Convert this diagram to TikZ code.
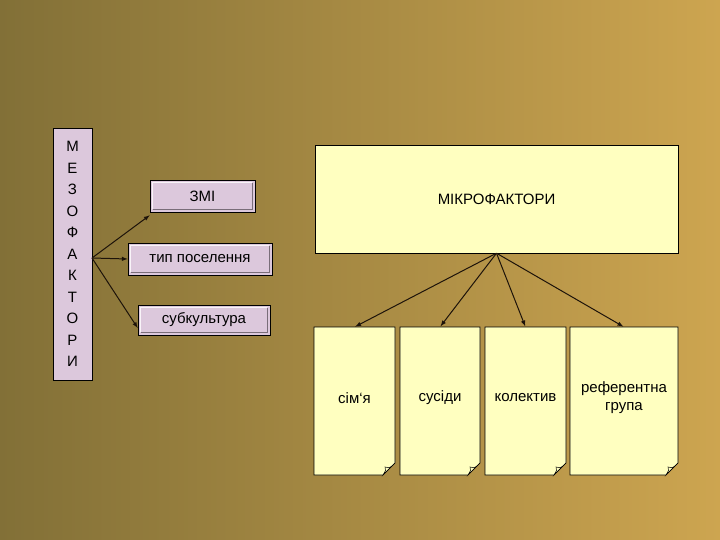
\documentclass[tikz,border=0pt]{standalone}
\usepackage{fontspec}
\setmainfont{Liberation Sans}
\begin{document}
\begin{tikzpicture}[x=1pt,y=-1pt,
  bev/.style={draw=black,fill=lav,line width=0.6pt,minimum height=32pt,inner sep=0pt,font=\fontsize{15}{15}\selectfont},
  note/.style={draw=black,fill=paper,line width=0.6pt,inner sep=0pt},
  arr/.style={-latex,line width=1pt,draw=black!85!brown}]
\definecolor{lav}{HTML}{DCC8DC}
\definecolor{paper}{HTML}{FFFFC0}
\definecolor{bgul}{RGB}{130,112,55}
\definecolor{bgur}{RGB}{205,165,80}
\useasboundingbox (0,0) rectangle (720,540);
\shade[left color=bgul,right color=bgur] (0,0) rectangle (720,540);
\node[draw=black,fill=lav,minimum width=39pt,minimum height=252pt,inner sep=0pt,
  align=center,font=\fontsize{15}{21.5}\selectfont] (meso) at (72.5,254) {М\\Е\\З\\О\\Ф\\А\\К\\Т\\О\\Р\\И};
\node[bev,minimum width=105pt] (zmi) at (202.5,196) {ЗМІ};
\node[bev,minimum width=144pt] (tip) at (200,259) {тип поселення};
\node[bev,minimum width=132pt,minimum height=30pt] (sub) at (204,320) {субкультура};
\foreach \n in {zmi,tip,sub}{\draw[white!80!lav,line width=1pt] ([shift={(3,-3)}]\n.south west) -- ([shift={(3,3)}]\n.north west) -- ([shift={(-3,3)}]\n.north east);
 \draw[black!45!lav,line width=1pt] ([shift={(3,-3)}]\n.south west) -- ([shift={(-3,-3)}]\n.south east) -- ([shift={(-3,3)}]\n.north east);}
\coordinate (m) at (92,258);
\draw[arr] (m) -- ([yshift=-3]zmi.south west);
\draw[arr] (m) -- (tip.west);
\draw[arr] (m) -- ([yshift=-8]sub.west);
\node[draw=black,fill=paper,minimum width=363pt,minimum height=108pt,inner sep=0pt,font=\fontsize{15}{15}\selectfont] (mic) at (496.5,199) {МІКРОФАКТОРИ};
\foreach \nm/\xa/\xb/\t in {a/314/395/{сім`я},b/400/480/{сусіди},c/485/566/{колектив},d/570/678/{референтна\\[-1pt]група}}{
  \draw[note] (\xa,327) -- (\xb,327) -- (\xb,463) -- (\xb-12,475) -- (\xa,475) -- cycle;
  \draw[line width=0.5pt] (\xb,463) -- (\xb-12,475) .. controls (\xb-9,470) .. (\xb-10,467) .. controls (\xb-5,468) .. (\xb,463);
  \node[inner sep=0pt] (\nm) at ({(\xa+\xb)/2},327) {};
  \node[inner sep=0pt,align=center,font=\fontsize{15}{19}\selectfont] at ({(\xa+\xb)/2},398) {\t};
}
\foreach \nm in {a,b,c,d}{\draw[arr] (mic.south) -- (\nm);}
\end{tikzpicture}
\end{document}
